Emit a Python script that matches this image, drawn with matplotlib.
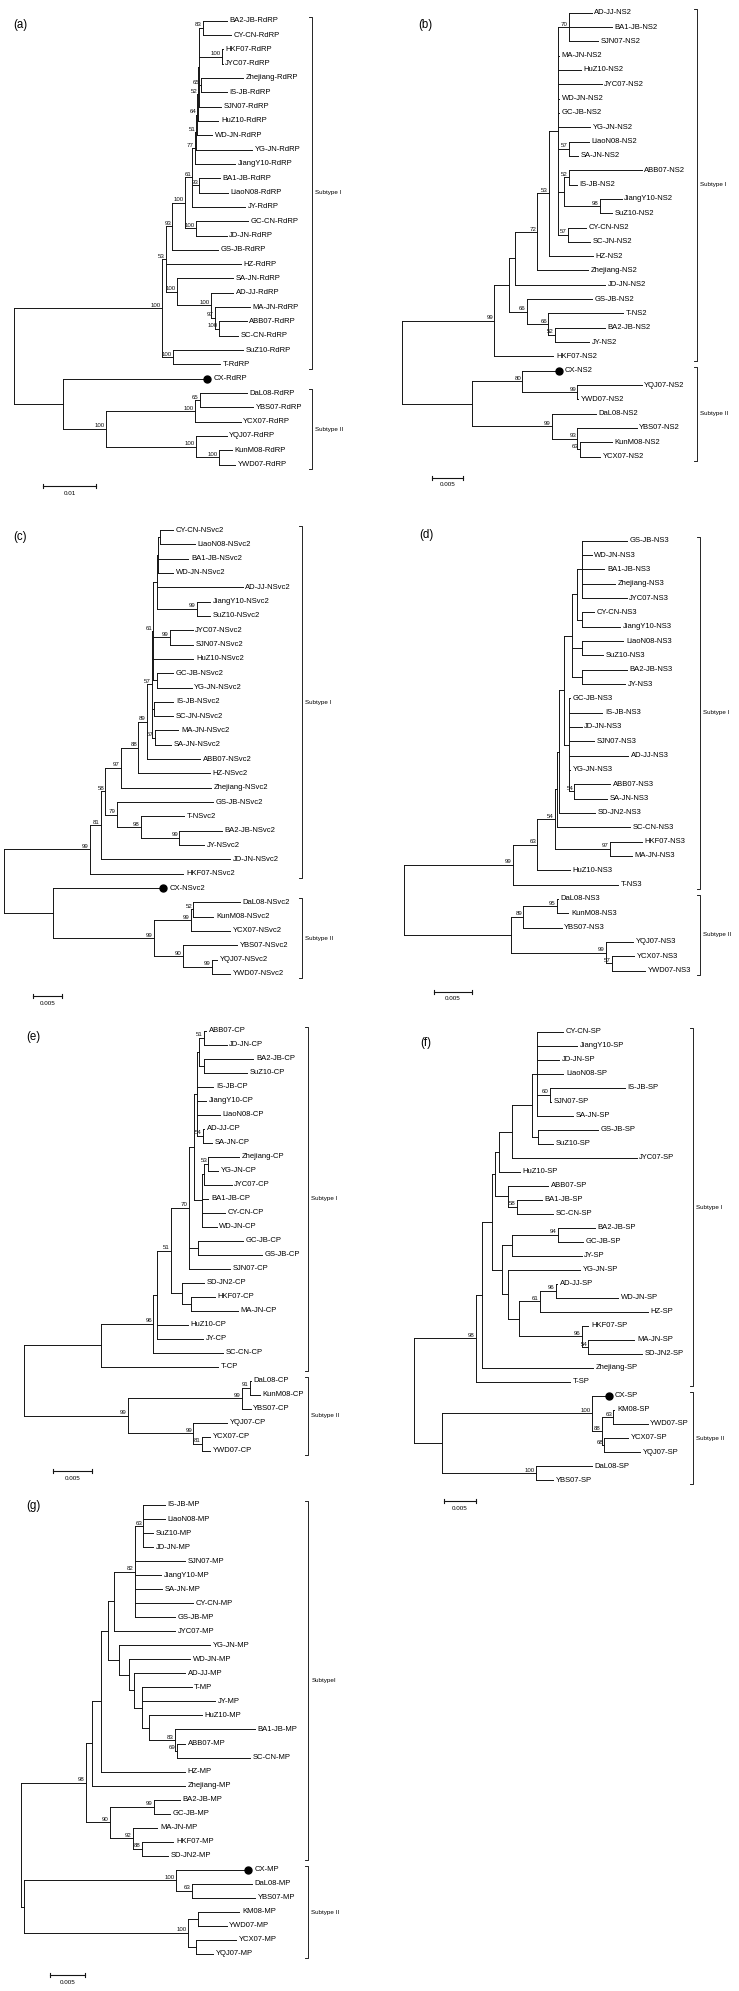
import matplotlib
matplotlib.use("Agg")
import matplotlib.pyplot as plt

plt.rcParams['font.family'] = ['Liberation Sans', 'DejaVu Sans']

# ------------------------------------------------------------------ data
PANEL_TAGS = ["(a)", "(b)", "(c)", "(d)", "(e)", "(f)", "(g)"]

# Newick trees: branch lengths in substitutions/site, internal labels = bootstrap
TREE_A = ("((((((((((((BA2-JB-RdRP:0.00455,CY-CN-RdRP:0.00537)83:0.00065,(HKF07-RdRP:0.00019,JYC07-RdRP:0.00019)100:0.00425,"
          "(Zhejiang-RdRP:0.00803,IS-JB-RdRP:0.00488)65:0.00032,SJN07-RdRP:0.00406):0.00019,HuZ10-RdRP:0.0038)52:0.00019,"
          "WD-JN-RdRP:0.00279)64:0.00019,YG-JN-RdRP:0.01063)51:0.00025,JiangY10-RdRP:0.00759)77:0.00051,"
          "(BA1-JB-RdRP:0.00393,LiaoN08-RdRP:0.00539)93:0.00133,JY-RdRP:0.01)61:0.00139,"
          "(GC-CN-RdRP:0.00992,JD-JN-RdRP:0.00583)100:0.00209)100:0.00241,GS-JB-RdRP:0.00873)93:0.00125,HZ-RdRP:0.01429,"
          "(SA-JN-RdRP:0.01074,(AD-JJ-RdRP:0.00429,(MA-JN-RdRP:0.00664,(ABB07-RdRP:0.00526,SC-CN-RdRP:0.00366)100:0.00076)97:0.00082)100:0.00645)100:0.00209)53:0.00065,"
          "(SuZ10-RdRP:0.0134,T-RdRP:0.00898)100:0.00197)100:0.02814,"
          "(CX-RdRP:0.02732,(((DaL08-RdRP:0.00886,YBS07-RdRP:0.01011)65:0.00095,YCX07-RdRP:0.00867)100:0.01689,"
          "(YQJ07-RdRP:0.00583,(KunM08-RdRP:0.00235,YWD07-RdRP:0.00298)100:0.00442)100:0.01708)100:0.0081):0.00935);")

TREE_B = ("((((((((AD-JJ-NS2:0.00358,BA1-JB-NS2:0.00674,SJN07-NS2:0.00463)70:0.00169,MA-JN-NS2:0.00016,HuZ10-NS2:0.00358,"
          "JYC07-NS2:0.00685,WD-JN-NS2:0.00016,GC-JB-NS2:0.00016,YG-JN-NS2:0.005,(LiaoN08-NS2:0.00321,SA-JN-NS2:0.00147)57:0.00169,"
          "((ABB07-NS2:0.01148,IS-JB-NS2:0.00122)52:0.00074,(JiangY10-NS2:0.00343,SuZ10-NS2:0.00194)98:0.00564):0.00095,"
          "(CY-CN-NS2:0.00279,SC-JN-NS2:0.00343)57:0.00158):0.00142,HZ-NS2:0.00695)53:0.00189,Zhejiang-NS2:0.00796)72:0.00347,"
          "JD-JN-NS2:0.01416):0.00099,(GS-JB-NS2:0.01026,(T-NS2:0.01184,(BA2-JB-NS2:0.0079,JY-NS2:0.00542)52:0.00106)66:0.00341)66:0.00279):0.00232,"
          "HKF07-NS2:0.00932)99:0.01462,((CX-NS2:0.0058,(YQJ07-NS2:0.01017,YWD07-NS2:0.00016)99:0.00868)80:0.0079,"
          "(DaL08-NS2:0.007,(YBS07-NS2:0.00938,(KunM08-NS2:0.005,YCX07-NS2:0.00316)63:0.00043)93:0.00404)99:0.01254):0.01115);")

TREE_C = ("((((((((((((CY-CN-NSvc2:0.00235,LiaoN08-NSvc2:0.00618):0.0003,BA1-JB-NSvc2:0.00529,WD-JN-NSvc2:0.00265):0.00028,"
          "AD-JJ-NSvc2:0.01518,(JiangY10-NSvc2:0.00235,SuZ10-NSvc2:0.00235)99:0.00706):0.0006,"
          "(JYC07-NSvc2:0.004,SJN07-NSvc2:0.004)99:0.00295,HuZ10-NSvc2:0.00706,(GC-JB-NSvc2:0.00293,YG-JN-NSvc2:0.00618):0.0006)61:0.00028,"
          "(IS-JB-NSvc2:0.00341,SC-JN-NSvc2:0.00341):0.00041,(MA-JN-NSvc2:0.00411,SA-JN-NSvc2:0.00277)57:0.00058)57:0.00088,"
          "ABB07-NSvc2:0.00941)89:0.00148,HZ-NSvc2:0.01265)88:0.00311,Zhejiang-NSvc2:0.01588)97:0.00272,"
          "(GS-JB-NSvc2:0.01705,(T-NSvc2:0.00769,(BA2-JB-NSvc2:0.00748,JY-NSvc2:0.00436)99:0.00681)98:0.00424)79:0.00201)58:0.00081,"
          "JD-JN-NSvc2:0.02282)81:0.00189,HKF07-NSvc2:0.01646)99:0.01518,"
          "(CX-NSvc2:0.01941,(((DaL08-NSvc2:0.00824,KunM08-NSvc2:0.00353)52:0.00046,YCX07-NSvc2:0.00693)99:0.00648,"
          "(YBS07-NSvc2:0.00963,(YQJ07-NSvc2:0.00099,YWD07-NSvc2:0.00323)99:0.00512)90:0.00506)99:0.01777):0.0087);")

TREE_D = ("((((((((((GS-JB-NS3:0.00603,WD-JN-NS3:0.00134,BA1-JB-NS3:0.00303,Zhejiang-NS3:0.00446,JYC07-NS3:0.00603):0.00067,"
          "(CY-CN-NS3:0.00169,JiangY10-NS3:0.00513):0.00067):0.00059,(LiaoN08-NS3:0.00557,SuZ10-NS3:0.00289):0.00126,"
          "(BA2-JB-NS3:0.00603,JY-NS3:0.0058):0.00126):0.00107,(GC-JB-NS3:0.0001,IS-JB-NS3:0.00446,JD-JN-NS3:0.0017,"
          "SJN07-NS3:0.00339,AD-JJ-NS3:0.00794,YG-JN-NS3:0.0001,(ABB07-NS3:0.00478,SA-JN-NS3:0.00434)54:0.00071):0.00063):0.00067,"
          "SD-JN2-NS3:0.00478):0.00035,SC-CN-NS3:0.00982):0.00023,(HKF07-NS3:0.00425,MA-JN-NS3:0.00291)97:0.00737)54:0.00237,"
          "HuZ10-NS3:0.00438)63:0.00329,T-NS3:0.01414)99:0.01452,"
          "(((DaL08-NS3:0.00013,KunM08-NS3:0.00155)95:0.00447,YBS07-NS3:0.00514)89:0.00165,"
          "(YQJ07-NS3:0.0037,(YCX07-NS3:0.00295,YWD07-NS3:0.00438)57:0.00088)99:0.01268):0.01429);")

TREE_E = ("((((((((((ABB07-CP:0.00026,JD-JN-CP:0.00296)51:0.00061,(BA2-JB-CP:0.00643,SuZ10-CP:0.00557):0.00061):0.00034,"
          "IS-JB-CP:0.00217,JiangY10-CP:0.00121,LiaoN08-CP:0.00304,(AD-JJ-CP:0.00009,SA-JN-CP:0.0011)54:0.00086):0.00031,"
          "(((Zhejiang-CP:0.00404,YG-JN-CP:0.0013)53:0.00056,JYC07-CP:0.00361):0.0003,BA1-JB-CP:0.00086,CY-CN-CP:0.00304,"
          "WD-JN-CP:0.00196):0.00097):0.00069,(GC-JB-CP:0.00595,GS-JB-CP:0.00835):0.00113,SJN07-CP:0.00535)70:0.00239,"
          "(SD-JN2-CP:0.00291,(HKF07-CP:0.00313,MA-JN-CP:0.00617):0.00121):0.00143)51:0.00183,HuZ10-CP:0.00412,"
          "JY-CP:0.00608):0.00044,SC-CN-CP:0.00913)96:0.00686,T-CP:0.01534):0.01,"
          "(((DaL08-CP:0.00013,KunM08-CP:0.0013)91:0.00108,YBS07-CP:0.00117)99:0.01487,"
          "(YQJ07-CP:0.00436,(YCX07-CP:0.00108,YWD07-CP:0.00108)81:0.0011)99:0.00856)99:0.01353);")

TREE_F = ("(((((((((CY-CN-SP:0.00406,JiangY10-SP:0.00616,JD-JN-SP:0.00344,LiaoN08-SP:0.00406,"
          "(IS-JB-SP:0.01172,SJN07-SP:0.00016)60:0.00198,SA-JN-SP:0.00563):0.00088,(GS-JB-SP:0.00938,SuZ10-SP:0.00234):0.00103):0.00313,"
          "JYC07-SP:0.01953):0.00194,HuZ10-SP:0.00323):0.00067,(ABB07-SP:0.00634,(BA1-JB-SP:0.00391,SC-CN-SP:0.00572)58:0.00141):0.00198):0.00052,"
          "(((BA2-JB-SP:0.00583,GC-JB-SP:0.004)94:0.00719,JY-SP:0.01094):0.00147,(YG-JN-SP:0.0112,"
          "(((AD-JJ-SP:0.00016,WD-JN-SP:0.00973)96:0.0025,HZ-SP:0.01683)61:0.00328,"
          "(HKF07-SP:0.00103,(MA-JN-SP:0.00719,SD-JN2-SP:0.00834)54:0.00103)96:0.0098):0.00167):0.00094):0.00166):0.00147,"
          "Zhejiang-SP:0.01725):0.00098,T-SP:0.01469)98:0.00964,"
          "((CX-SP:0.0027,((KM08-SP:0.00016,YWD07-SP:0.00538)63:0.00181,(YCX07-SP:0.00375,YQJ07-SP:0.00558)68:0.00041)88:0.00156)100:0.02344,"
          "(DaL08-SP:0.00875,YBS07-SP:0.00275)100:0.01469):0.00428);")

TREE_G = ("((((((((IS-JB-MP:0.0031,LiaoN08-MP:0.0031,SuZ10-MP:0.00143,JD-JN-MP:0.00143)63:0.00119,SJN07-MP:0.00714,"
          "JiangY10-MP:0.00371,SA-JN-MP:0.00381,CY-CN-MP:0.00833,GS-JB-MP:0.00571)82:0.003,JYC07-MP:0.00871):0.00081,"
          "(YG-JN-MP:0.01296,(WD-JN-MP:0.00867,(AD-JJ-MP:0.00729,(T-MP:0.00714,JY-MP:0.01047,(HuZ10-MP:0.00753,"
          "(BA1-JB-MP:0.01143,(ABB07-MP:0.00119,SC-CN-MP:0.01047)69:0.00024)83:0.00371):0.00104):0.0011):0.00067):0.00143):0.00157):0.00104,"
          "HZ-MP:0.012):0.00133,Zhejiang-MP:0.01333):0.00081,((BA2-JB-MP:0.00371,GC-JB-MP:0.00229)99:0.00629,"
          "(MA-JN-MP:0.00351,(HKF07-MP:0.00451,SD-JN2-MP:0.00371)88:0.00129)92:0.00324)90:0.00343)98:0.00933,"
          "((CX-MP:0.01033,(DaL08-MP:0.00857,YBS07-MP:0.00904)63:0.00224)100:0.02171,"
          "((KM08-MP:0.00594,YWD07-MP:0.00414):0.00143,(YCX07-MP:0.00571,YQJ07-MP:0.00247):0.00119)100:0.02339):0.00047);")

TREES = [TREE_A, TREE_B, TREE_C, TREE_D, TREE_E, TREE_F, TREE_G]

SCALE_VALUES = [0.01, 0.005, 0.005, 0.005, 0.005, 0.005, 0.005]
SCALE_LABELS = ["0.01", "0.005", "0.005", "0.005", "0.005", "0.005", "0.005"]

SUBTYPES_A = [("Subtype I", "BA2-JB-RdRP", "T-RdRP"), ("Subtype II", "DaL08-RdRP", "YWD07-RdRP")]
SUBTYPES_B = [("Subtype I", "AD-JJ-NS2", "HKF07-NS2"), ("Subtype II", "CX-NS2", "YCX07-NS2")]
SUBTYPES_C = [("Subtype I", "CY-CN-NSvc2", "HKF07-NSvc2"), ("Subtype II", "DaL08-NSvc2", "YWD07-NSvc2")]
SUBTYPES_D = [("Subtype I", "GS-JB-NS3", "T-NS3"), ("Subtype II", "DaL08-NS3", "YWD07-NS3")]
SUBTYPES_E = [("Subtype I", "ABB07-CP", "T-CP"), ("Subtype II", "DaL08-CP", "YWD07-CP")]
SUBTYPES_F = [("Subtype I", "CY-CN-SP", "T-SP"), ("Subtype II", "CX-SP", "YBS07-SP")]
SUBTYPES_G = [("SubtypeI", "IS-JB-MP", "SD-JN2-MP"), ("Subtype II", "CX-MP", "YQJ07-MP")]
SUBTYPES = [SUBTYPES_A, SUBTYPES_B, SUBTYPES_C, SUBTYPES_D, SUBTYPES_E, SUBTYPES_F, SUBTYPES_G]

MARKED_PREFIX = "CX-"   # the isolate highlighted with a filled circle

# ------------------------------------------------------------------ layout (pixels of the 739x1991 canvas)
W, H = 739, 1991
LAYOUT = [
    dict(box=(0, 0, 368, 525), root=14.0, fy=20.7, step=14.32, ppu=5270, scale=(43.3, 486.0), bx=311.7, tag=(13.3, 25.0)),
    dict(box=(368, 0, 371, 525), root=401.7, fy=12.7, step=14.32, ppu=6333, scale=(431.7, 477.7), bx=696.7, tag=(418.3, 25.0)),
    dict(box=(0, 525, 368, 505), root=4.0, fy=530.0, step=14.32, ppu=5667, scale=(33.3, 996.0), bx=302.0, tag=(13.3, 536.7)),
    dict(box=(368, 525, 371, 505), root=404.3, fy=540.7, step=14.33, ppu=7467, scale=(434.3, 991.7), bx=700.0, tag=(419.0, 535.0)),
    dict(box=(0, 1025, 368, 470), root=24.0, fy=1030.7, step=14.0, ppu=7667, scale=(53.3, 1471.0), bx=308.0, tag=(26.7, 1036.7)),
    dict(box=(368, 1025, 371, 500), root=414.3, fy=1031.7, step=14.01, ppu=6400, scale=(444.0, 1501.0), bx=693.3, tag=(420.0, 1042.7)),
    dict(box=(0, 1495, 368, 496), root=20.7, fy=1505.0, step=14.03, ppu=7000, scale=(50.0, 1975.0), bx=308.3, tag=(26.7, 1506.0)),
]

LW = 0.7
LINE_COLOR = '#151515'
LEAF_FS = 5.5
BOOT_FS = 4.4
SMALL_FS = 4.5
TAG_FS = 8.3


def parse_newick(s):
    s = s.strip().rstrip(';')
    pos = [0]

    def node():
        n = {'children': [], 'name': '', 'len': 0.0}
        if s[pos[0]] == '(':
            pos[0] += 1
            while True:
                n['children'].append(node())
                c = s[pos[0]]
                pos[0] += 1
                if c == ')':
                    break
        start = pos[0]
        while pos[0] < len(s) and s[pos[0]] not in ',():':
            pos[0] += 1
        n['name'] = s[start:pos[0]]
        if pos[0] < len(s) and s[pos[0]] == ':':
            pos[0] += 1
            start = pos[0]
            while pos[0] < len(s) and s[pos[0]] not in ',()':
                pos[0] += 1
            n['len'] = float(s[start:pos[0]])
        return n
    return node()


def assign(n, x_parent, leaves):
    n['x'] = x_parent + n['len']
    if not n['children']:
        n['y'] = float(len(leaves))
        leaves.append(n)
    else:
        for c in n['children']:
            assign(c, n['x'], leaves)
        n['y'] = 0.5 * (n['children'][0]['y'] + n['children'][-1]['y'])


fig = plt.figure(figsize=(W / 100, H / 100), dpi=100)
fig.patch.set_facecolor('white')


def line(ax, xs, ys, lw=LW):
    ax.plot(xs, ys, color=LINE_COLOR, lw=lw, solid_capstyle='projecting', clip_on=False)


def draw_node(ax, n, is_root=False):
    kids = n['children']
    for c in kids:
        line(ax, [n['x'], c['x']], [c['y'], c['y']])
        draw_node(ax, c)
    if kids:
        line(ax, [n['x'], n['x']], [kids[0]['y'], kids[-1]['y']])
        if n['name'] and not is_root:
            ax.annotate(n['name'], (n['x'], n['y']), xytext=(-0.8, 0.3), textcoords='offset points',
                        ha='right', va='bottom', fontsize=BOOT_FS, color='#111', annotation_clip=False)
    else:
        if n['name'].startswith(MARKED_PREFIX):
            ax.plot([n['x']], [n['y']], 'o', color='black', ms=5.0, clip_on=False, zorder=5)
            off = 4.3
        else:
            off = 1.9
        ax.annotate(n['name'], (n['x'], n['y']), xytext=(off, 0), textcoords='offset points',
                    ha='left', va='center', fontsize=LEAF_FS, color='black', annotation_clip=False)


for i, (tree_str, subtypes, sval, slab, tag, L) in enumerate(
        zip(TREES, SUBTYPES, SCALE_VALUES, SCALE_LABELS, PANEL_TAGS, LAYOUT)):
    root = parse_newick(tree_str)
    leaves = []
    assign(root, 0.0, leaves)
    index = {lf['name']: lf['y'] for lf in leaves}

    x0, y0, w, h = L['box']
    ax = fig.add_axes([x0 / W, 1 - (y0 + h) / H, w / W, h / H])
    ax.set_axis_off()
    ppu, rx, fy, st = L['ppu'], L['root'], L['fy'], L['step']
    ax.set_xlim((x0 - rx) / ppu, (x0 + w - rx) / ppu)
    ax.set_ylim((y0 + h - fy) / st, (y0 - fy) / st)

    def px2x(p):
        return (p - rx) / ppu

    def px2y(p):
        return (p - fy) / st

    draw_node(ax, root, is_root=True)

    # subtype brackets
    bx = px2x(L['bx'])
    tick = 3.0 / ppu
    for name, first, last in subtypes:
        yt = index[first] - 0.27
        yb = index[last] + 0.30
        line(ax, [bx - tick, bx, bx, bx - tick], [yt, yt, yb, yb], lw=0.65)
        ax.text(bx + 3.0 / ppu, 0.5 * (yt + yb), name, fontsize=SMALL_FS, ha='left', va='center')

    # scale bar
    sx, sy = px2x(L['scale'][0]), px2y(L['scale'][1])
    d = 2.2 / st
    line(ax, [sx, sx + sval], [sy, sy], lw=0.8)
    line(ax, [sx, sx], [sy - d, sy + d], lw=0.8)
    line(ax, [sx + sval, sx + sval], [sy - d, sy + d], lw=0.8)
    ax.text(sx + sval / 2, sy + 7.2 / st, slab, fontsize=SMALL_FS, ha='center', va='center')

    # panel tag
    fig.text(L['tag'][0] / W, 1 - L['tag'][1] / H, tag, fontsize=TAG_FS, ha='left', va='center')

fig.savefig('out.png', dpi=100, facecolor='white')
